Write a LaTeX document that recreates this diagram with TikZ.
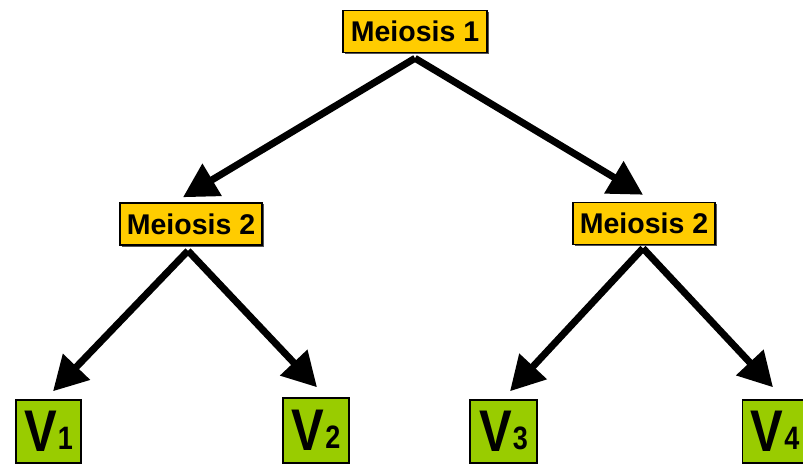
\documentclass[tikz,border=0pt]{standalone}
\usepackage{fontspec}
\setmainfont{Liberation Sans}
\usetikzlibrary{arrows.meta,shadows}
\definecolor{stageyellow}{HTML}{FFCC00}
\definecolor{cellgreen}{HTML}{99CC00}
\definecolor{shadowgray}{HTML}{555555}
\tikzset{
  stagebox/.style={draw=black, line width=1.5pt, fill=stageyellow,
    minimum height=42pt, inner sep=0pt, font=\fontsize{28.5}{30}\selectfont\bfseries,
    drop shadow={shadow xshift=1.5pt, shadow yshift=-1.5pt, fill=shadowgray, opacity=1}},
  cellbox/.style={draw=black, line width=1.5pt, fill=cellgreen,
    minimum width=65pt, minimum height=63pt, inner sep=0pt},
  arr/.style={line width=7pt, -{Triangle[length=34pt,width=36pt]}}
}
\newcommand{\cellname}[1]{\scalebox{1}[1.2]{\fontsize{49}{51}\selectfont\bfseries V\kern1pt\raisebox{2pt}{\fontsize{27}{29}\selectfont #1}}}
\begin{document}
\begin{tikzpicture}[x=1pt,y=-1pt]
  \useasboundingbox (0,0) rectangle (803,465);
  % division stages
  \node[stagebox, minimum width=144pt] (m1)  at (415,31.5) {Meiosis 1};
  \node[stagebox, minimum width=142pt] (m2a) at (191,224) {Meiosis 2};
  \node[stagebox, minimum width=142pt] (m2b) at (644,223.5) {Meiosis 2};
  % resulting cells
  \node[cellbox] (v1) at (48.5,431.5) {\cellname{1}};
  \node[cellbox, minimum width=66pt, minimum height=65pt] (v2) at (316,430.5) {\cellname{2}};
  \node[cellbox, minimum width=67pt] (v3) at (503.5,431.5) {\cellname{3}};
  \node[cellbox] (v4) at (775,431.5) {\cellname{4}};
  % first division
  \draw[arr] ([yshift=-5pt]m1.south) -- ([shift={(-8pt,5pt)}]m2a.north);
  \draw[arr] ([yshift=-5pt]m1.south) -- ([shift={(-1pt,7pt)}]m2b.north);
  % second division
  \draw[arr] ([shift={(-3pt,-5pt)}]m2a.south) -- ([shift={(4.5pt,8pt)}]v1.north);
  \draw[arr] ([shift={(-3pt,-5pt)}]m2a.south) -- ([shift={(1pt,10pt)}]v2.north);
  \draw[arr] ([shift={(-1pt,-3pt)}]m2b.south) -- ([shift={(6.5pt,8pt)}]v3.north);
  \draw[arr] ([shift={(-1pt,-3pt)}]m2b.south) -- ([shift={(-2pt,12pt)}]v4.north);
\end{tikzpicture}
\end{document}
